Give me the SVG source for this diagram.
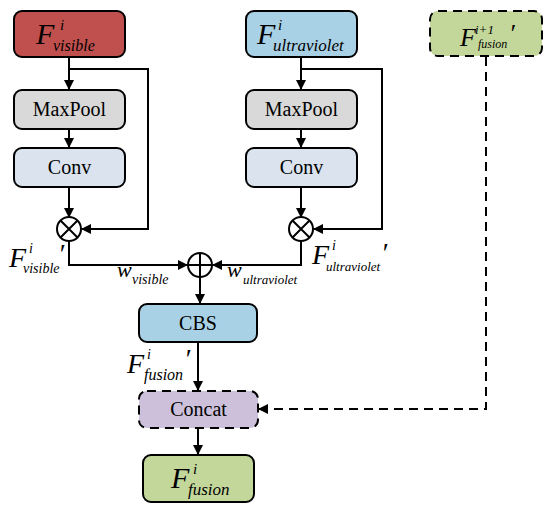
<svg xmlns="http://www.w3.org/2000/svg" width="550" height="511" viewBox="0 0 550 511">
<style>
.box{stroke:#000;stroke-width:2}
.dash{stroke-dasharray:9,6}
.lbl{font-family:"Liberation Serif",serif;fill:#000}
.it{font-family:"Liberation Serif",serif;font-style:italic;fill:#000}
.ln{fill:none;stroke:#000;stroke-width:2}
</style>
<defs>
<marker id="ah" markerWidth="10" markerHeight="10" refX="9" refY="5" orient="auto" markerUnits="userSpaceOnUse">
<path d="M0,0 L10,5 L0,10 Z" fill="#000"/>
</marker>
</defs>
<rect width="550" height="511" fill="#fff"/>
<g id="connectors">
<path class="ln" d="M69,57 V89" marker-end="url(#ah)"/>
<path class="ln" d="M69,69 H148 V229 H82" marker-end="url(#ah)"/>
<path class="ln" d="M69,129 V147" marker-end="url(#ah)"/>
<path class="ln" d="M69,187 V217" marker-end="url(#ah)"/>
<path class="ln" d="M69,241 V265 H187" marker-end="url(#ah)"/>
<path class="ln" d="M301,57 V89" marker-end="url(#ah)"/>
<path class="ln" d="M301,69 H382 V229 H314" marker-end="url(#ah)"/>
<path class="ln" d="M301,129 V147" marker-end="url(#ah)"/>
<path class="ln" d="M301,187 V217" marker-end="url(#ah)"/>
<path class="ln" d="M301,241 V265 H213" marker-end="url(#ah)"/>
<path class="ln" d="M200,277 V303" marker-end="url(#ah)"/>
<path class="ln" d="M198,342 V390" marker-end="url(#ah)"/>
<path class="ln" d="M198,428 V454" marker-end="url(#ah)"/>
<path class="ln dash" d="M486,57 V409 H259" marker-end="url(#ah)"/>
</g>
<g id="f_visible">
<rect class="box" x="14" y="11" width="111" height="46" rx="8" fill="#c0504d"/>
<text class="it" x="36" y="44" font-size="30">F</text>
<text class="it" x="60" y="30" font-size="15">i</text>
<text class="it" x="53" y="51" font-size="16">visible</text>
</g>
<g id="maxpool_left">
<rect class="box" x="14" y="90" width="111" height="39" rx="8" fill="#d9d9d9"/>
<text class="lbl" x="69.5" y="116" font-size="20" text-anchor="middle">MaxPool</text>
</g>
<g id="conv_left">
<rect class="box" x="14" y="148" width="111" height="39" rx="8" fill="#dae3ee"/>
<text class="lbl" x="69.5" y="174" font-size="20" text-anchor="middle">Conv</text>
</g>
<g id="mul_left">
<circle cx="69" cy="229" r="12" fill="#fff" stroke="#000" stroke-width="2"/>
<path class="ln" d="M60.5,220.5 L77.5,237.5 M77.5,220.5 L60.5,237.5"/>
</g>
<g id="f_ultraviolet">
<rect class="box" x="246" y="11" width="111" height="46" rx="8" fill="#a9d1e5"/>
<text class="it" x="257" y="44" font-size="30">F</text>
<text class="it" x="278" y="30" font-size="15">i</text>
<text class="it" x="273" y="51" font-size="17">ultraviolet</text>
</g>
<g id="maxpool_right">
<rect class="box" x="246" y="90" width="111" height="39" rx="8" fill="#d9d9d9"/>
<text class="lbl" x="301.5" y="116" font-size="20" text-anchor="middle">MaxPool</text>
</g>
<g id="conv_right">
<rect class="box" x="246" y="148" width="111" height="39" rx="8" fill="#dae3ee"/>
<text class="lbl" x="301.5" y="174" font-size="20" text-anchor="middle">Conv</text>
</g>
<g id="mul_right">
<circle cx="301" cy="229" r="12" fill="#fff" stroke="#000" stroke-width="2"/>
<path class="ln" d="M292.5,220.5 L309.5,237.5 M309.5,220.5 L292.5,237.5"/>
</g>
<g id="add">
<circle cx="200" cy="265" r="12" fill="#fff" stroke="#000" stroke-width="2"/>
<path class="ln" d="M188,265 H212 M200,253 V277"/>
</g>
<g id="f_fusion_next">
<rect class="box dash" x="430" y="11" width="112" height="45" rx="8" fill="#c4d79b"/>
<text class="it" x="460" y="46" font-size="26">F</text>
<text class="it" x="475" y="34" font-size="13">i+1</text>
<text class="it" x="478" y="48" font-size="12">fusion</text>
<text class="it" x="509" y="42" font-size="26">′</text>
</g>
<g id="cbs">
<rect class="box" x="139" y="304" width="118" height="38" rx="8" fill="#a9d1e5"/>
<text class="lbl" x="198" y="330" font-size="20" text-anchor="middle">CBS</text>
</g>
<g id="concat">
<rect class="box dash" x="139" y="391" width="119" height="37" rx="8" fill="#ccc0da"/>
<text class="lbl" x="198.5" y="416" font-size="20" text-anchor="middle">Concat</text>
</g>
<g id="f_fusion">
<rect class="box" x="143" y="455" width="111" height="47" rx="8" fill="#c4d79b"/>
<text class="it" x="171" y="488" font-size="30">F</text>
<text class="it" x="193" y="474" font-size="15">i</text>
<text class="it" x="188" y="495" font-size="17">fusion</text>
</g>
<g id="labels">
<text class="it" x="9" y="267" font-size="28">F</text>
<text class="it" x="29" y="253" font-size="14">i</text>
<text class="it" x="23" y="273" font-size="14">visible</text>
<text class="it" x="58" y="263" font-size="28">′</text>
<text class="it" x="117" y="277" font-size="22">w</text>
<text class="it" x="132" y="284" font-size="14">visible</text>
<text class="it" x="227" y="277" font-size="22">w</text>
<text class="it" x="243" y="284" font-size="13">ultraviolet</text>
<text class="it" x="312" y="264" font-size="28">F</text>
<text class="it" x="332" y="250" font-size="14">i</text>
<text class="it" x="326" y="271" font-size="13">ultraviolet</text>
<text class="it" x="381" y="262" font-size="28">′</text>
<text class="it" x="127" y="373" font-size="28">F</text>
<text class="it" x="147" y="359" font-size="14">i</text>
<text class="it" x="144" y="380" font-size="16">fusion</text>
<text class="it" x="184" y="368" font-size="28">′</text>
</g>
</svg>
